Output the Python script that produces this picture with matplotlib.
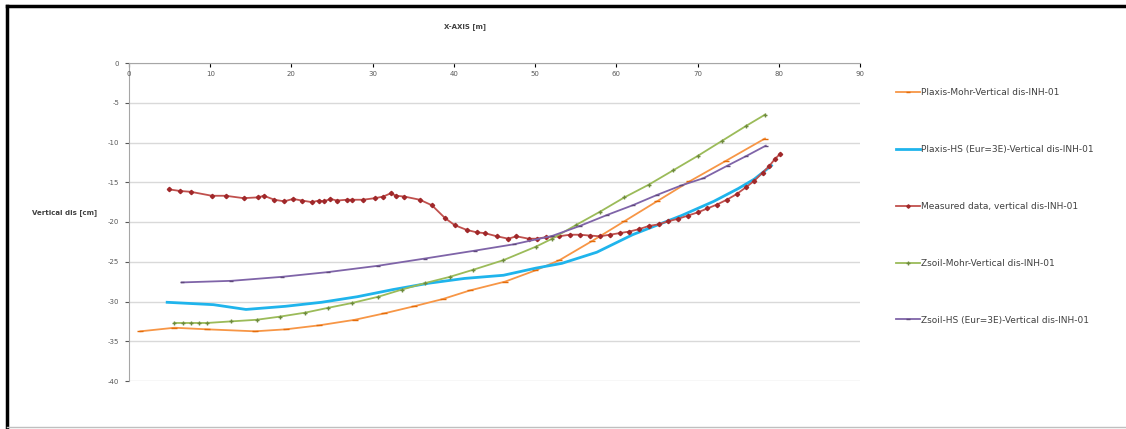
import matplotlib.pyplot as plt
from matplotlib.lines import Line2D

plt.rcParams['axes.unicode_minus'] = False

# Plaxis-Mohr
pm_x = [1.4, 5.6, 9.6, 15.5, 19.3, 23.4, 27.8, 31.4, 35.1, 38.6, 42.0, 46.3, 50.0, 53.0, 57.0, 61.0, 65.0, 69.0, 73.5, 78.3]
pm_y = [-33.75, -33.3, -33.5, -33.75, -33.5, -33.0, -32.3, -31.5, -30.6, -29.7, -28.6, -27.5, -26.1, -24.8, -22.4, -19.9, -17.4, -14.9, -12.3, -9.5]

# Plaxis-HS
ph_x = [4.7, 10.4, 14.4, 19.3, 23.7, 28.1, 32.5, 36.9, 41.3, 46.1, 50.1, 53.3, 57.6, 62.0, 65.0, 68.0, 72.0, 75.0, 77.0, 79.1]
ph_y = [-30.1, -30.4, -31.0, -30.6, -30.1, -29.4, -28.5, -27.7, -27.1, -26.7, -25.8, -25.2, -23.8, -21.6, -20.4, -19.2, -17.4, -15.8, -14.6, -12.9]

# measured
ms_x = [4.95, 6.3, 7.6, 10.2, 11.9, 14.1, 15.9, 16.6, 17.9, 19.1, 20.2, 21.3, 22.5, 23.4, 24.0, 24.8, 25.6, 26.8,
        27.4, 28.8, 30.3, 31.3, 32.2, 32.9, 33.9, 35.8, 37.3, 38.9, 40.1, 41.6, 42.8, 43.8, 45.3, 46.7, 47.7, 49.2,
        50.2, 51.4, 52.9, 54.3, 55.5, 56.7, 58.0, 59.2, 60.4, 61.6, 62.8, 64.0, 65.2, 66.4, 67.6, 68.8, 70.0, 71.2,
        72.4, 73.6, 74.8, 76.0, 77.0, 78.0, 78.8, 79.5, 80.2]
ms_y = [-15.9, -16.1, -16.2, -16.7, -16.7, -17.0, -16.9, -16.7, -17.2, -17.4, -17.1, -17.3, -17.5, -17.3, -17.4, -17.1, -17.3, -17.2,
        -17.2, -17.2, -17.0, -16.8, -16.4, -16.7, -16.8, -17.2, -17.9, -19.5, -20.4, -21.0, -21.3, -21.4, -21.8, -22.1, -21.8, -22.1,
        -22.1, -21.9, -21.8, -21.6, -21.6, -21.7, -21.8, -21.6, -21.4, -21.2, -20.9, -20.5, -20.3, -19.9, -19.6, -19.2, -18.8, -18.3,
        -17.8, -17.2, -16.5, -15.6, -14.8, -13.8, -13.0, -12.1, -11.4]

# Zsoil-Mohr
zm_x = [5.6, 6.6, 7.6, 8.6, 9.6, 12.6, 15.7, 18.6, 21.7, 24.5, 27.4, 30.7, 33.6, 36.4, 39.5, 42.4, 46.1, 50.1, 52.1,
        55.0, 58.0, 61.0, 64.0, 67.0, 70.0, 73.0, 76.0, 78.3]
zm_y = [-32.7, -32.7, -32.7, -32.7, -32.7, -32.5, -32.3, -31.9, -31.4, -30.8, -30.2, -29.4, -28.5, -27.7, -26.9, -26.0, -24.8, -23.1, -22.1,
        -20.4, -18.7, -16.9, -15.3, -13.5, -11.7, -9.8, -7.9, -6.5]

# Zsoil-HS
zh_x = [6.5, 12.6, 18.8, 24.5, 30.7, 36.4, 42.6, 47.4, 52.1, 55.5, 58.9, 62.0, 65.0, 68.0, 70.7, 73.7, 76.0, 78.4]
zh_y = [-27.6, -27.4, -26.9, -26.3, -25.5, -24.6, -23.6, -22.8, -21.75, -20.5, -19.1, -17.9, -16.6, -15.4, -14.5, -12.9, -11.7, -10.4]

labels = ["Plaxis-Mohr-Vertical dis-INH-01",
          "Plaxis-HS (Eur=3E)-Vertical dis-INH-01",
          "Measured data, vertical dis-INH-01",
          "Zsoil-Mohr-Vertical dis-INH-01",
          "Zsoil-HS (Eur=3E)-Vertical dis-INH-01"]
x_ticks = [0, 10, 20, 30, 40, 50, 60, 70, 80, 90]
y_ticks = [0, -5, -10, -15, -20, -25, -30, -35, -40]

fig = plt.figure(figsize=(11.26, 4.29), dpi=100)
ax = fig.add_axes([129 / 1126, 1 - 381 / 429, (860 - 129) / 1126, (381 - 63) / 429])

l1, = ax.plot(pm_x, pm_y, color='#F79646', lw=1.3, marker='_', ms=4, mec='#E46C0A')
l2, = ax.plot(ph_x, ph_y, color='#1FB4EC', lw=2.0)
l3, = ax.plot(ms_x, ms_y, color='#C0504D', lw=1.3, marker='D', ms=2.2, mfc='#A0282A', mec='#A0282A')
l4, = ax.plot(zm_x, zm_y, color='#9BBB59', lw=1.3, marker='+', ms=3, mec='#6E8B3D')
l5, = ax.plot(zh_x, zh_y, color='#7F64A8', lw=1.3, marker='_', ms=3, mec='#5F497A')

ax.set_xlim(0, 90)
ax.set_ylim(-40, 0)
ax.set_xticks(x_ticks)
ax.set_yticks(y_ticks)
ax.xaxis.tick_top()
ax.tick_params(axis='x', direction='in', length=3, labeltop=False)
ax.tick_params(axis='y', direction='out', length=3, pad=4, labelsize=5, colors='#595959')
# x labels sit just under the axis line at y = 0
for v in x_ticks:
    ax.text(v, -1.0, str(v), fontsize=5, color='#595959', ha='center', va='top')
ax.grid(axis='y', color='#D9D9D9', lw=1)
ax.set_axisbelow(True)
for s in ['bottom', 'right']:
    ax.spines[s].set_visible(False)
for s in ['top', 'left']:
    ax.spines[s].set_color('#A6A6A6')
    ax.spines[s].set_linewidth(0.8)

fig.text(465 / 1126, 1 - 27 / 429, 'X-AXIS [m]', fontsize=5, fontweight='bold', color='#404040', ha='center', va='center')
fig.text(65 / 1126, 1 - 213 / 429, 'Vertical dis [cm]', fontsize=5, fontweight='bold', color='#404040', ha='center', va='center')

fig.legend([l1, l2, l3, l4, l5], labels, loc='upper left', bbox_to_anchor=(888 / 1126, 1 - 80 / 429),
           frameon=False, fontsize=6.5, labelcolor='#404040', handlelength=2.6, handletextpad=0.2,
           labelspacing=5.3, markerscale=0.8)

# frame around the picture
fig.add_artist(Line2D([7 / 1126, 7 / 1126], [0.004, 1 - 6 / 429], transform=fig.transFigure, color='black', lw=2.5))
fig.add_artist(Line2D([7 / 1126, 1.0], [1 - 6 / 429, 1 - 6 / 429], transform=fig.transFigure, color='black', lw=2.5))
fig.add_artist(Line2D([7 / 1126, 1.0], [0.004, 0.004], transform=fig.transFigure, color='#BFBFBF', lw=1))

fig.savefig('out.png', dpi=100)
